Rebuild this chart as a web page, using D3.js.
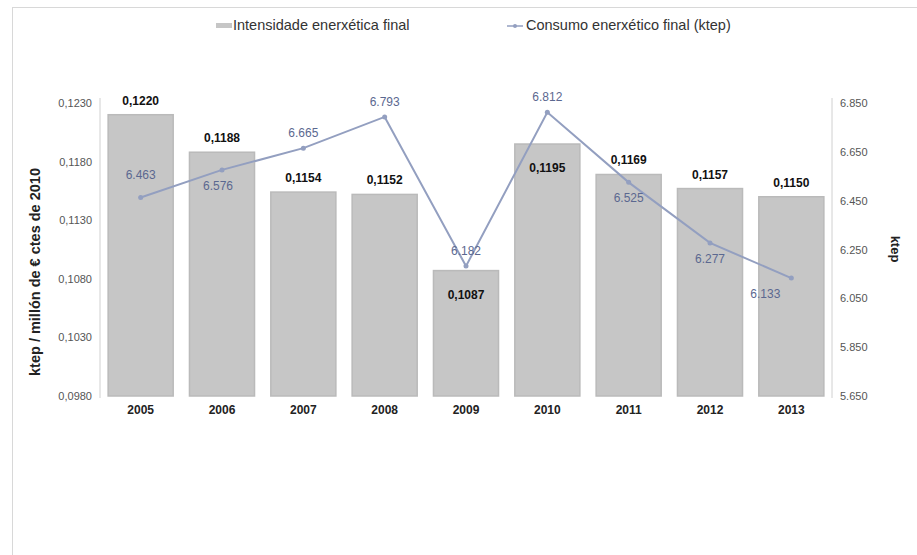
<!DOCTYPE html>
<html><head><meta charset="utf-8">
<script src="https://cdn.jsdelivr.net/npm/d3@7"></script>
<style>body{margin:0;background:#fff;}svg{display:block;font-family:"Liberation Sans",Arial,sans-serif;}</style>
</head><body>
<script>
const years = ["2005","2006","2007","2008","2009","2010","2011","2012","2013"];
const intensity = [0.1220,0.1188,0.1154,0.1152,0.1087,0.1195,0.1169,0.1157,0.1150];
const consumption = [6463,6576,6665,6793,6182,6812,6525,6277,6133];
const leftTicks = [0.098,0.103,0.108,0.113,0.118,0.123];
const rightTicks = [5650,5850,6050,6250,6450,6650,6850];
const barLabelPlace = ["above","above","above","above","inside","inside","above","above","above"];
const lineLabelPlace = ["above","below","above","above","above","above","below","below","belowleft"];

const W=917,H=555;
const svg=d3.select("body").append("svg").attr("width",W).attr("height",H);
// frame
svg.append("line").attr("x1",12).attr("x2",W).attr("y1",7.5).attr("y2",7.5).attr("stroke","#d8d8d8");
svg.append("line").attr("x1",12.5).attr("x2",12.5).attr("y1",7).attr("y2",H).attr("stroke","#d8d8d8");

const x=d3.scaleBand().domain(years).range([100,832]).paddingInner(0.2).paddingOuter(0.1);
const yL=d3.scaleLinear().domain([0.098,0.123]).range([396,103]);
const yR=d3.scaleLinear().domain([5650,6850]).range([396,103]);

const fmtL=v=>d3.format(".4f")(v).replace(".",",");
const fmtR=v=>d3.format(",")(v).replace(/,/g,".");

// axes
const gl=svg.append("g").attr("transform","translate(100,0)")
  .call(d3.axisLeft(yL).tickValues(leftTicks).tickFormat(fmtL).tickSize(0).tickPadding(8));
gl.select(".domain").attr("stroke","#d0d0d0").attr("d","M0,98V398");
gl.selectAll("text").attr("font-size",11).attr("fill","#555").attr("font-family","Liberation Sans, Arial");

const gr=svg.append("g").attr("transform","translate(832,0)")
  .call(d3.axisRight(yR).tickValues(rightTicks).tickFormat(fmtR).tickSize(0).tickPadding(8));
gr.select(".domain").attr("stroke","#d0d0d0").attr("d","M0,98V398");
gr.selectAll("text").attr("font-size",11).attr("fill","#555").attr("font-family","Liberation Sans, Arial");

const gx=svg.append("g").attr("transform","translate(0,400)")
  .call(d3.axisBottom(x).tickSize(0).tickPadding(5));
gx.select(".domain").remove();
gx.selectAll("text").attr("font-size",12).attr("font-weight","bold").attr("fill","#222").attr("font-family","Liberation Sans, Arial");

// bars
svg.append("g").selectAll("rect").data(years).join("rect")
  .attr("x",d=>x(d)).attr("width",x.bandwidth())
  .attr("y",(d,i)=>yL(intensity[i])).attr("height",(d,i)=>396-yL(intensity[i]))
  .attr("fill","#c6c6c6").attr("stroke","#bababa").attr("stroke-width",1.5);

// line
const line=d3.line().x((d,i)=>x(years[i])+x.bandwidth()/2).y(d=>yR(d));
svg.append("path").datum(consumption).attr("d",line).attr("fill","none")
  .attr("stroke","#939fc0").attr("stroke-width",2);
svg.append("g").selectAll("circle").data(consumption).join("circle")
  .attr("cx",(d,i)=>x(years[i])+x.bandwidth()/2).attr("cy",d=>yR(d)).attr("r",2.5)
  .attr("fill","#939fc0");

// bar labels
svg.append("g").selectAll("text").data(intensity).join("text")
  .attr("x",(d,i)=>x(years[i])+x.bandwidth()/2)
  .attr("y",(d,i)=>barLabelPlace[i]==="inside"? yL(d)+28 : yL(d)-10)
  .attr("text-anchor","middle").attr("font-size",12).attr("font-weight","bold").attr("fill","#111")
  .text(d=>fmtL(d));

// line labels
svg.append("g").selectAll("text").data(consumption).join("text")
  .attr("x",(d,i)=>x(years[i])+x.bandwidth()/2 + (lineLabelPlace[i]==="belowleft"?-26:(lineLabelPlace[i]==="below"&&i===1?-4:0)))
  .attr("y",(d,i)=>lineLabelPlace[i]==="above"? yR(d)-(i===0?18:11) : yR(d)+20)
  .attr("text-anchor","middle").attr("font-size",12).attr("fill","#5b6890")
  .text(d=>fmtR(d));

// axis titles
svg.append("text").attr("transform","translate(40,272) rotate(-90)").attr("text-anchor","middle")
  .attr("font-size",14.5).attr("font-weight","bold").attr("fill","#222").text("ktep / millón de € ctes de 2010");
svg.append("text").attr("transform","translate(891,249) rotate(90)").attr("text-anchor","middle")
  .attr("font-size",13).attr("font-weight","bold").attr("fill","#222").text("ktep");

// legend
svg.append("rect").attr("x",216).attr("y",23).attr("width",16).attr("height",5).attr("fill","#c6c6c6");
svg.append("text").attr("x",233).attr("y",30).attr("font-size",14.5).attr("fill","#333").text("Intensidade enerxética final");
svg.append("line").attr("x1",507).attr("x2",523).attr("y1",26).attr("y2",26).attr("stroke","#939fc0").attr("stroke-width",1.5);
svg.append("circle").attr("cx",515).attr("cy",26).attr("r",2).attr("fill","#939fc0");
svg.append("text").attr("x",526).attr("y",30).attr("font-size",14.5).attr("fill","#333").text("Consumo enerxético final (ktep)");
</script>
</body></html>
